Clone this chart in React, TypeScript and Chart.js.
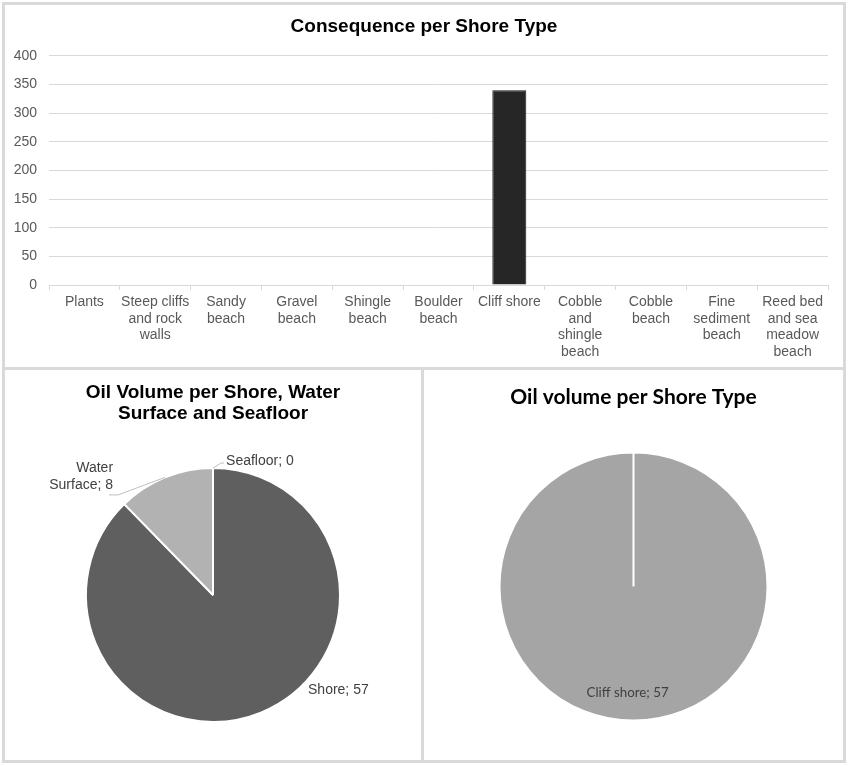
import { useEffect, useRef } from "react";
import { Chart, registerables } from "chart.js";

Chart.register(...registerables);

// ---------- data ----------
const barCategories: (string | string[])[] = [
  "Plants",
  ["Steep cliffs", "and rock", "walls"],
  ["Sandy", "beach"],
  ["Gravel", "beach"],
  ["Shingle", "beach"],
  ["Boulder", "beach"],
  "Cliff shore",
  ["Cobble", "and", "shingle", "beach"],
  ["Cobble", "beach"],
  ["Fine", "sediment", "beach"],
  ["Reed bed", "and sea", "meadow", "beach"],
];
const consequenceValues = [0, 0, 0, 0, 0, 0, 340, 0, 0, 0, 0];
const yAxisMin = 0;
const yAxisMax = 400;
const yAxisStep = 50;

const locationLabels = ["Shore", "Water Surface", "Seafloor"];
const locationVolumes = [57, 8, 0];

const shoreTypeNames = [
  "Plants",
  "Steep cliffs and rock walls",
  "Sandy beach",
  "Gravel beach",
  "Shingle beach",
  "Boulder beach",
  "Cliff shore",
  "Cobble and shingle beach",
  "Cobble beach",
  "Fine sediment beach",
  "Reed bed and sea meadow beach",
];
const shoreTypeVolumes = [0, 0, 0, 0, 0, 0, 57, 0, 0, 0, 0];

// ---------- styles ----------
const ARIAL = "'Liberation Sans', Arial, sans-serif";
const CALIBRI = "Lato, 'Open Sans', sans-serif";
const GRID = "#d9d9d9";

type LabelStyle = {
  angle: number;
  dist: number;
  dx: number;
  dy: number;
  align: CanvasTextAlign;
  leader?: boolean;
  tail?: number;
  wrap?: boolean;
};

const pie1LabelStyles: (LabelStyle | null)[] = [
  { angle: 45, dist: 1.058, dx: 0, dy: 0, align: "left" },
  { angle: -133.5, dist: 1.086, dx: -5, dy: -18, align: "right", leader: true, tail: -9, wrap: true },
  { angle: -86.5, dist: 1.041, dx: 5, dy: -2, align: "left", leader: true, tail: 3 },
];
const pie2LabelStyles: (LabelStyle | null)[] = [
  null, null, null, null, null, null,
  { angle: 93.2, dist: 0.792, dx: 0, dy: 0, align: "center" },
  null, null, null, null,
];

const pieLabelPlugin = {
  id: "pieLabels",
  afterDatasetsDraw(chart: any, _args: any, opts: any) {
    const styles: (LabelStyle | null)[] = opts.styles;
    if (!styles) return;
    const ctx: CanvasRenderingContext2D = chart.ctx;
    const meta = chart.getDatasetMeta(0);
    const ds = chart.data.datasets[0];
    meta.data.forEach((arc: any, i: number) => {
      const st = styles[i];
      if (!st) return;
      const { x, y, startAngle, endAngle, outerRadius } = arc.getProps(
        ["x", "y", "startAngle", "endAngle", "outerRadius"],
        true
      );
      const mid = (startAngle + endAngle) / 2;
      const a = (st.angle * Math.PI) / 180;
      const ax = x + Math.cos(a) * outerRadius * st.dist;
      const ay = y + Math.sin(a) * outerRadius * st.dist;
      ctx.save();
      if (st.leader) {
        ctx.strokeStyle = "#bfbfbf";
        ctx.lineWidth = 1;
        ctx.beginPath();
        ctx.moveTo(x + Math.cos(mid) * outerRadius, y + Math.sin(mid) * outerRadius);
        ctx.lineTo(ax, ay);
        ctx.lineTo(ax + (st.tail || 0), ay);
        ctx.stroke();
      }
      const text = `${chart.data.labels[i]}; ${ds.data[i]}`;
      const sp = text.indexOf(" ");
      const lines = st.wrap && sp > 0 ? [text.slice(0, sp), text.slice(sp + 1)] : [text];
      ctx.font = opts.font;
      ctx.fillStyle = opts.color;
      ctx.textAlign = st.align;
      ctx.textBaseline = "middle";
      const lh = opts.lineHeight;
      const cy = ay + st.dy - ((lines.length - 1) * lh) / 2;
      lines.forEach((l, k) => ctx.fillText(l, ax + st.dx, cy + k * lh));
      ctx.restore();
    });
  },
};

export default function App() {
  const barRef = useRef<HTMLCanvasElement>(null);
  const pie1Ref = useRef<HTMLCanvasElement>(null);
  const pie2Ref = useRef<HTMLCanvasElement>(null);

  useEffect(() => {
    const charts: Chart[] = [];

    charts.push(
      new Chart(barRef.current!, {
        type: "bar",
        data: {
          labels: barCategories as any,
          datasets: [
            {
              data: consequenceValues,
              backgroundColor: "#262626",
              borderColor: "#1a1a1a",
              borderWidth: 1,
              barPercentage: 0.48,
              categoryPercentage: 1,
            },
          ],
        },
        options: {
          animation: false,
          responsive: false,
          events: [],
          layout: { padding: 0 },
          plugins: {
            legend: { display: false },
            tooltip: { enabled: false },
            title: {
              display: true,
              text: "Consequence per Shore Type",
              color: "#000",
              font: { family: ARIAL, size: 19, weight: "bold", lineHeight: 1.2 },
              padding: { top: 10, bottom: 18 },
            },
          },
          scales: {
            x: {
              grid: { display: true, drawOnChartArea: false, drawTicks: true, tickLength: 5, color: GRID },
              border: { display: true, color: GRID },
              ticks: {
                color: "#595959",
                font: { family: ARIAL, size: 14, lineHeight: 1.18 },
                padding: 4,
                maxRotation: 0,
                minRotation: 0,
                autoSkip: false,
              },
              afterFit: (s: any) => {
                s.height = 82;
              },
            },
            y: {
              min: yAxisMin,
              max: yAxisMax,
              ticks: {
                stepSize: yAxisStep,
                color: "#595959",
                font: { family: ARIAL, size: 14 },
                padding: 12,
              },
              grid: { color: GRID, drawTicks: false },
              border: { display: false },
              afterFit: (s: any) => {
                s.width = 44;
              },
            },
            yRightSpacer: {
              type: "linear",
              position: "right",
              display: true,
              grid: { display: false },
              border: { display: false },
              ticks: { display: false },
              afterFit: (s: any) => {
                s.width = 15;
              },
            },
          } as any,
        },
      })
    );

    charts.push(
      new Chart(pie1Ref.current!, {
        type: "pie",
        data: {
          labels: locationLabels,
          datasets: [
            {
              data: locationVolumes,
              backgroundColor: ["#5f5f5f", "#b2b2b2", "#8c8c8c"],
              borderColor: "#ffffff",
              borderWidth: 2,
            },
          ],
        },
        options: {
          animation: false,
          responsive: false,
          events: [],
          radius: 127,
          layout: { padding: { left: 0, right: 0, top: 0, bottom: 15 } },
          plugins: {
            legend: { display: false },
            tooltip: { enabled: false },
            title: {
              display: true,
              text: ["Oil Volume per Shore, Water", "Surface and Seafloor"],
              color: "#000",
              font: { family: ARIAL, size: 19, weight: "bold", lineHeight: 1.13 },
              padding: { top: 12, bottom: 20 },
            },
            pieLabels: {
              styles: pie1LabelStyles,
              font: `14px ${ARIAL}`,
              color: "#404040",
              lineHeight: 17,
            },
          } as any,
        },
        plugins: [pieLabelPlugin],
      })
    );

    charts.push(
      new Chart(pie2Ref.current!, {
        type: "pie",
        data: {
          labels: shoreTypeNames,
          datasets: [
            {
              data: shoreTypeVolumes,
              backgroundColor: "#a5a5a5",
              borderColor: "#ffffff",
              borderWidth: 2,
            },
          ],
        },
        options: {
          animation: false,
          responsive: false,
          events: [],
          radius: 134,
          layout: { padding: { left: 0, right: 0, top: 0, bottom: 17 } },
          plugins: {
            legend: { display: false },
            tooltip: { enabled: false },
            title: {
              display: true,
              text: "Oil volume per Shore Type",
              color: "#000",
              font: { family: CALIBRI, size: 21, weight: "bold", lineHeight: 1.2 },
              padding: { top: 15, bottom: 20 },
            },
            pieLabels: {
              styles: pie2LabelStyles,
              font: `13.3px ${CALIBRI}`,
              color: "#404040",
              lineHeight: 16,
            },
          } as any,
        },
        plugins: [pieLabelPlugin],
      })
    );

    return () => charts.forEach((c) => c.destroy());
  }, []);

  const abs = (l: number, t: number, w: number, h: number): React.CSSProperties => ({
    position: "absolute",
    left: l,
    top: t,
    width: w,
    height: h,
  });

  return (
    <div style={{ position: "absolute", left: 0, top: 0, width: 851, height: 767, background: "#fff" }}>
      <div style={{ ...abs(2, 2, 844, 761), border: `3px solid ${GRID}`, boxSizing: "border-box" }} />
      <div style={{ ...abs(2, 367, 844, 3), background: GRID }} />
      <div style={{ ...abs(421, 367, 3, 396), background: GRID }} />
      <canvas ref={barRef} width={838} height={362} style={abs(5, 5, 838, 362)} />
      <canvas ref={pie1Ref} width={416} height={390} style={abs(5, 370, 416, 390)} />
      <canvas ref={pie2Ref} width={419} height={390} style={abs(424, 370, 419, 390)} />
    </div>
  );
}
